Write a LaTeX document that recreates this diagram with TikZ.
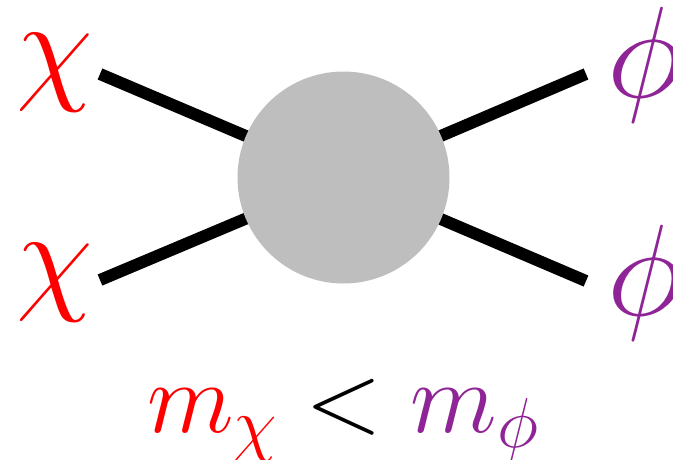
\RequirePackage{fix-cm}
\documentclass[tikz,border=0pt]{standalone}
\definecolor{chired}{RGB}{255,0,0}
\definecolor{phipurple}{RGB}{142,36,150}
\definecolor{blobgray}{RGB}{190,190,190}
\begin{document}
\begin{tikzpicture}[x=1pt,y=-1pt,
  leg/.style={line width=12pt,black},
  blob/.style={circle,fill=blobgray,minimum size=212pt,inner sep=0pt},
  chilbl/.style={text=chired,inner sep=0pt,anchor=base,font=\fontsize{125}{125}\selectfont},
  philbl/.style={text=phipurple,inner sep=0pt,anchor=base west,font=\fontsize{130}{130}\selectfont},
  masslbl/.style={inner sep=0pt,anchor=base,font=\fontsize{101}{101}\selectfont}]
\useasboundingbox (0,0) rectangle (673,459);
\coordinate (c) at (343.5,177.5);
\coordinate (tl) at (100,74);
\coordinate (bl) at (100,280);
\coordinate (tr) at (586,74);
\coordinate (br) at (586,281);
\draw[leg] (tl) -- (c);
\draw[leg] (bl) -- (c);
\draw[leg] (tr) -- (c);
\draw[leg] (br) -- (c);
\node[blob] (v) at (c) {};
\node[chilbl] (x1) at (55,87) {$\chi$};
\node[chilbl] (x2) at (55,297) {$\chi$};
\node[philbl] (p1) at (607,97) {$\phi$};
\node[philbl] (p2) at (607,315) {$\phi$};
\node[masslbl] (m) at (343,432) {$\color{chired}m_\chi\color{black} < \color{phipurple}m_\phi$};
\end{tikzpicture}
\end{document}
